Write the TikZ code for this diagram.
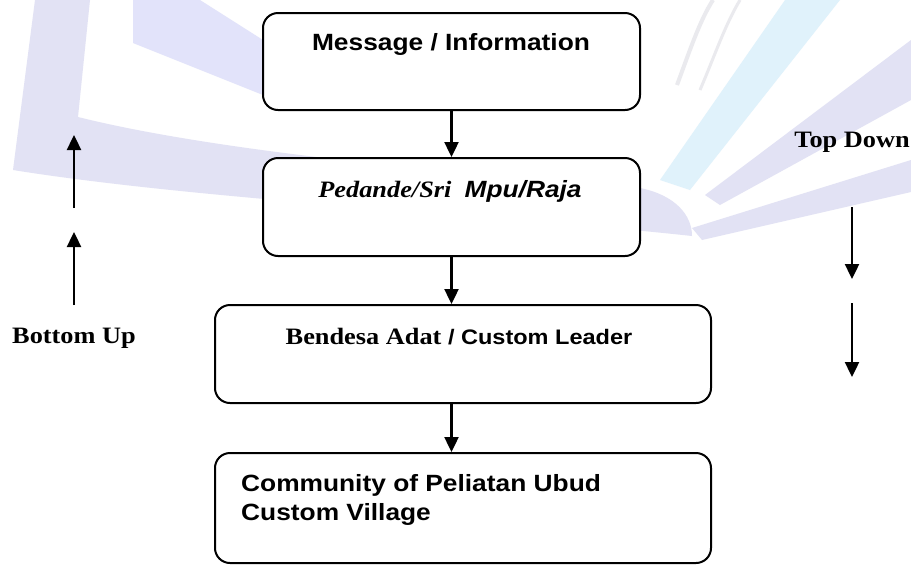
\documentclass[tikz,border=0pt]{standalone}
\usepackage{fontspec}
\setmainfont[FakeStretch=1.12]{Liberation Serif}
\newfontfamily\arialfont[FakeStretch=1.12]{Liberation Sans}
\usetikzlibrary{arrows.meta}
\definecolor{lavender}{RGB}{226,226,244}
\definecolor{lilac}{RGB}{226,227,250}
\definecolor{paleblue}{RGB}{224,242,251}
\definecolor{palegrey}{RGB}{234,234,238}

\begin{document}
\begin{tikzpicture}[x=1pt,y=-1pt,
  box/.style={draw=black,line width=2pt,rounded corners=15pt,fill=white,inner sep=0pt},
  flow/.style={line width=2.4pt,-{Triangle[length=15pt,width=14pt]}},
  txt/.style={font=\fontsize{23.5}{29}\selectfont\bfseries,inner sep=0pt}]

  \useasboundingbox (0,0) rectangle (911,566);
  \fill[white] (0,0) rectangle (911,566);

  % ribbons in the background
  \fill[lavender] (35,0) -- (90,0) -- (78,117) .. controls (250,160) and (560,180) .. (640,188)
    .. controls (675,195) and (692,215) .. (692,236) .. controls (500,215) and (200,200) .. (13,170) -- cycle;
  \fill[lilac] (133,0) -- (200,0) -- (263,40) -- (263,95) -- (133,43) -- cycle;
  \fill[paleblue] (660,180) -- (785,0) -- (840,0) -- (690,190) -- cycle;
  \fill[lavender] (705,195) -- (911,40) -- (911,100) -- (720,205) -- cycle;
  \fill[lavender] (692,228) -- (911,160) -- (911,192) -- (702,240) -- cycle;
  \draw[palegrey,line width=4pt] (677,85) .. controls (690,50) and (700,20) .. (713,0);
  \draw[palegrey,line width=3pt] (700,90) .. controls (715,55) and (725,25) .. (740,0);

  % the four levels
  \node[box,minimum width=377pt,minimum height=97pt] (msg) at (451.5,61.5) {};
  \node[box,minimum width=377pt,minimum height=98pt] (pedande) at (451.5,207) {};
  \node[box,minimum width=496pt,minimum height=98pt] (bendesa) at (463,354) {};
  \node[box,minimum width=496pt,minimum height=110pt] (community) at (463,508) {};

  \node[txt,anchor=base] (msgtext) at (451,50) {\arialfont Message / Information};
  \node[txt,anchor=base] (pedandetext) at (450,197) {\itshape Pedande/Sri\ \ {\arialfont Mpu/Raja}};
  \node[txt,anchor=base] (bendesatext) at (459,344)
    {Bendesa Adat {\arialfont\fontsize{21}{25}\selectfont / Custom Leader}};
  \node[txt,anchor=north west,align=left] (communitytext) at (241,474)
    {\arialfont Community of Peliatan Ubud\\\arialfont Custom Village};

  \draw[flow] (msg.south) -- (pedande.north);
  \draw[flow] (pedande.south) -- (pedande.south |- bendesa.north);
  \draw[flow] (pedande.south |- bendesa.south) -- (pedande.south |- community.north);

  % direction markers at the sides
  \coordinate (up1) at (74,208);
  \coordinate (up1tip) at (74,135);
  \coordinate (up2) at (74,305);
  \coordinate (up2tip) at (74,232);
  \coordinate (down1) at (852,207);
  \coordinate (down1tip) at (852,279);
  \coordinate (down2) at (852,303);
  \coordinate (down2tip) at (852,377);

  \draw[flow] (up1) -- (up1tip);
  \draw[flow] (up2) -- (up2tip);
  \draw[flow] (down1) -- (down1tip);
  \draw[flow] (down2) -- (down2tip);

  \node[txt,anchor=base] (bottomup) at (74,343) {Bottom Up};
  \node[txt,anchor=base] (topdown) at (852,147) {Top Down};
\end{tikzpicture}
\end{document}
